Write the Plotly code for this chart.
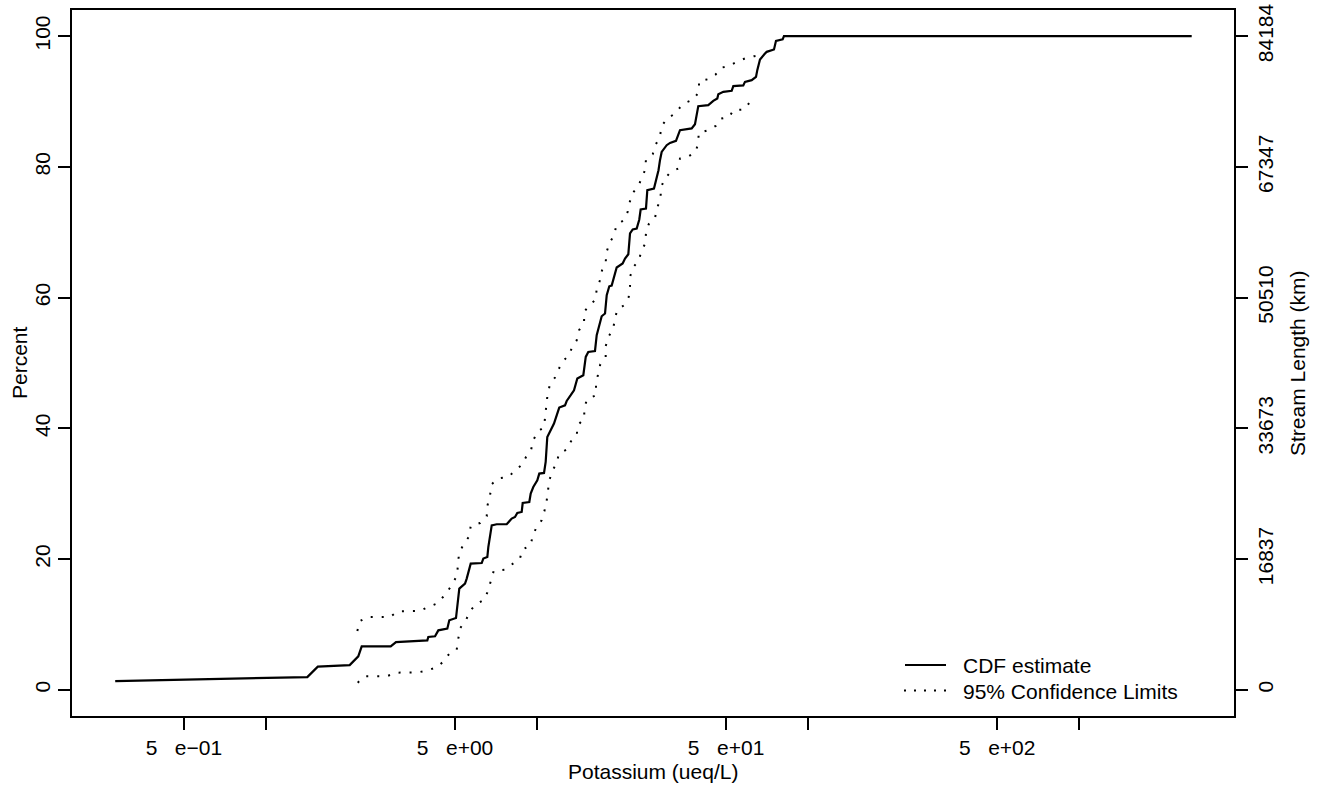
import plotly.graph_objects as go

# ---------------- data ----------------
cdf_x = [0.279, 1.426, 1.559, 2.044, 2.199, 2.264, 2.896, 3.029, 3.953, 3.986,
         4.220, 4.340, 4.684, 4.764, 5.043, 5.186, 5.444, 5.523, 5.714, 6.274,
         6.360, 6.580, 6.636, 6.830, 7.126, 7.757, 8.093, 8.324, 8.488, 8.810,
         8.886, 9.399, 9.511, 9.723, 10.06, 10.23, 10.65, 10.80, 10.95, 11.27,
         11.59, 11.86, 12.12, 12.73, 12.91, 13.36, 13.74, 14.13, 14.87, 15.18,
         15.51, 16.42, 16.66, 17.38, 17.88, 18.14, 18.54, 18.92, 19.74, 20.77,
         21.19, 21.79, 22.11, 22.62, 23.40, 23.92, 24.20, 25.32, 25.61, 27.10,
         27.68, 28.16, 28.52, 28.93, 30.19, 31.05, 32.67, 33.80, 37.33, 38.39,
         39.48, 42.98, 44.84, 46.40, 46.80, 48.83, 52.44, 53.16, 57.86, 58.70,
         62.14, 64.46, 65.17, 66.68, 69.58, 70.59, 75.10, 76.39, 80.84, 81.74,
         2609.0]
cdf_pct = [1.35, 1.96, 3.55, 3.78, 5.13, 6.66, 6.66, 7.31, 7.57, 8.08,
           8.19, 9.10, 9.36, 10.64, 10.99, 15.49, 16.25, 17.02, 19.31, 19.40,
           20.08, 20.32, 21.85, 25.17, 25.33, 25.33, 26.20, 26.44, 27.05, 27.21,
           28.58, 28.74, 30.02, 31.03, 32.06, 33.08, 33.18, 34.86, 38.68, 39.82,
           40.73, 42.00, 43.18, 43.53, 44.19, 45.07, 45.83, 47.62, 48.13, 50.93,
           51.69, 51.84, 54.25, 57.15, 57.57, 60.37, 61.74, 61.85, 64.61, 65.22,
           65.98, 66.64, 69.81, 70.42, 70.57, 71.95, 73.48, 73.63, 76.43, 76.69,
           78.27, 79.49, 81.03, 82.29, 83.32, 83.67, 83.98, 85.62, 85.88, 86.53,
           89.29, 89.44, 90.10, 90.47, 91.12, 91.48, 91.63, 92.35, 92.46, 93.01,
           93.27, 93.77, 94.80, 96.43, 97.35, 97.60, 97.96, 99.28, 99.50, 100.0,
           100.0]

upper_x = [2.181, 2.232, 2.382, 2.872, 3.082, 3.705, 3.976, 4.281, 4.515, 4.724,
           4.916, 5.086, 5.129, 5.173, 5.375, 5.645, 5.714, 6.183, 6.547, 6.580,
           6.733, 6.830, 7.187, 7.864, 8.345, 8.810, 9.139, 9.535, 9.723, 10.06,
           10.65, 10.77, 10.89, 10.97, 11.20, 11.69, 12.06, 12.44, 13.14, 13.54,
           14.06, 14.34, 14.96, 14.99, 15.61, 16.46, 16.66, 17.13, 17.43, 17.98,
           18.14, 18.60, 19.35, 19.68, 20.96, 21.68, 22.05, 22.58, 23.72, 24.42,
           25.11, 25.32, 26.81, 27.53, 28.52, 28.93, 30.19, 32.12, 33.80, 35.57,
           37.84, 39.72, 39.72, 42.98, 45.77, 47.75, 51.38, 54.71, 58.70, 63.53,
           65.17]
upper_pct = [9.00, 10.53, 11.14, 11.14, 12.01, 12.06, 12.67, 13.19, 14.20, 15.23,
             16.34, 17.52, 19.20, 20.84, 22.26, 23.49, 25.07, 25.52, 26.55, 28.13,
             29.76, 31.45, 32.32, 32.56, 33.59, 34.40, 35.62, 36.65, 38.18, 39.45,
             40.21, 41.85, 43.49, 45.11, 46.75, 47.77, 49.04, 50.16, 51.19, 52.46,
             53.48, 55.01, 56.13, 57.81, 58.84, 59.60, 61.24, 62.66, 64.19, 65.46,
             67.05, 68.43, 69.59, 71.08, 71.84, 73.14, 74.60, 75.98, 77.05, 78.38,
             79.49, 81.13, 81.94, 83.43, 84.70, 86.23, 87.35, 88.06, 89.09, 89.86,
             90.31, 91.48, 93.11, 93.42, 94.14, 95.15, 95.45, 96.07, 96.59, 96.94,
             97.02]

lower_x = [2.188, 2.322, 2.799, 3.037, 3.661, 3.966, 4.292, 4.554, 4.764, 5.073,
           5.142, 5.231, 5.504, 5.679, 5.976, 6.413, 6.616, 6.787, 6.945, 7.626,
           8.204, 8.684, 8.855, 9.511, 9.674, 10.01, 10.44, 10.68, 10.89, 10.99,
           11.14, 11.43, 11.86, 12.09, 12.91, 13.39, 14.06, 14.18, 14.99, 14.99,
           15.38, 16.56, 16.56, 16.84, 17.18, 17.98, 17.98, 18.38, 19.08, 19.46,
           19.79, 21.01, 21.87, 22.11, 22.11, 22.68, 23.86, 24.33, 25.17, 25.32,
           25.91, 27.33, 27.87, 28.64, 28.76, 29.58, 31.05, 33.32, 33.80, 36.39,
           38.62, 39.48, 39.62, 42.98, 45.77, 47.47, 51.38, 53.16, 58.21, 60.88,
           64.46]
lower_pct = [1.10, 2.07, 2.07, 2.63, 2.68, 2.98, 3.49, 4.41, 5.54, 6.15,
             7.83, 9.46, 10.79, 12.06, 13.08, 13.80, 15.12, 16.86, 18.18, 18.39,
             19.31, 20.08, 21.45, 22.11, 23.64, 24.91, 25.94, 27.31, 28.89, 30.53,
             32.06, 33.48, 34.71, 36.14, 36.76, 38.03, 38.90, 40.47, 41.50, 43.18,
             44.50, 45.07, 46.64, 48.23, 49.81, 50.93, 52.56, 53.99, 55.01, 56.65,
             58.07, 58.84, 60.11, 61.64, 63.17, 64.61, 65.72, 67.15, 68.28, 69.90,
             71.23, 72.20, 73.79, 75.06, 76.82, 78.07, 79.14, 79.76, 81.29, 81.64,
             82.29, 83.67, 85.20, 85.62, 86.27, 87.35, 87.65, 88.68, 88.78, 89.79,
             90.56]

x_tick_vals = [0.5, 1, 5, 10, 50, 100, 500, 1000]
x_tick_text = ["5   e\u221201", "", "5   e+00", "", "5   e+01", "", "5   e+02", ""]
y_tick_vals = [0, 20, 40, 60, 80, 100]
y_tick_text = ["0", "20", "40", "60", "80", "100"]
y2_tick_text = ["0", "16837", "33673", "50510", "67347", "84184"]

legend_labels = ["CDF estimate", "95% Confidence Limits"]

# ---------------- layout geometry ----------------
W, H = 1317, 786
L, R, T, B = 72, 83, 10, 70
PW, PH = W - L - R, H - T - B


def px2paper_x(px):
    return (px - L) / PW


def px2paper_y(py):
    return (H - B - py) / PH


FONT = "Liberation Sans, Arial, Helvetica, sans-serif"
FS = 21

fig = go.Figure()
fig.add_trace(go.Scatter(x=cdf_x, y=cdf_pct, mode="lines",
                         line=dict(color="black", width=2.2),
                         showlegend=False, hoverinfo="skip"))
fig.add_trace(go.Scatter(x=upper_x, y=upper_pct, mode="lines",
                         line=dict(color="black", width=2, dash="2px,9px"),
                         showlegend=False, hoverinfo="skip"))
fig.add_trace(go.Scatter(x=lower_x, y=lower_pct, mode="lines",
                         line=dict(color="black", width=2, dash="2px,9px"),
                         showlegend=False, hoverinfo="skip"))
# invisible trace to carry the right-hand axis
fig.add_trace(go.Scatter(x=cdf_x, y=cdf_pct, mode="lines", yaxis="y2",
                         line=dict(color="rgba(0,0,0,0)", width=0),
                         showlegend=False, hoverinfo="skip"))

axis_common = dict(showline=True, linecolor="black", linewidth=1.5,
                   ticks="outside", ticklen=12, tickwidth=1.5, tickcolor="black",
                   showgrid=False, zeroline=False, automargin=False,
                   tickfont=dict(family=FONT, size=FS, color="black"))

fig.update_layout(
    width=W, height=H,
    margin=dict(l=L, r=R, t=T, b=B, pad=0, autoexpand=False),
    paper_bgcolor="white", plot_bgcolor="white",
    font=dict(family=FONT, size=FS, color="black"),
    showlegend=False,
    xaxis=dict(type="log", range=[-0.7138, 3.5725], mirror=True,
               tickmode="array", tickvals=x_tick_vals, ticktext=x_tick_text,
               **axis_common),
    yaxis=dict(range=[-4, 104], mirror=True, tickmode="array",
               tickvals=y_tick_vals, ticktext=y_tick_text, tickangle=-90,
               **axis_common),
    yaxis2=dict(range=[-4, 104], overlaying="y", side="right",
                tickmode="array", tickvals=y_tick_vals, ticktext=y2_tick_text,
                tickangle=-90, **axis_common),
)

ann_font = dict(family=FONT, size=FS, color="black")
annotations = [
    dict(text="Potassium (ueq/L)", xref="paper", yref="paper",
         x=0.5, y=px2paper_y(771.5), xanchor="center", yanchor="middle",
         showarrow=False, font=ann_font),
    dict(text="Percent", xref="paper", yref="paper",
         x=px2paper_x(19), y=0.5, xanchor="center", yanchor="middle",
         textangle=-90, showarrow=False, font=ann_font),
    dict(text="Stream Length (km)", xref="paper", yref="paper",
         x=px2paper_x(1297), y=0.5, xanchor="center", yanchor="middle",
         textangle=-90, showarrow=False, font=ann_font),
    dict(text=legend_labels[0], xref="paper", yref="paper",
         x=px2paper_x(961), y=px2paper_y(665.5), xanchor="left", yanchor="middle",
         showarrow=False, font=ann_font),
    dict(text=legend_labels[1], xref="paper", yref="paper",
         x=px2paper_x(961), y=px2paper_y(691), xanchor="left", yanchor="middle",
         showarrow=False, font=ann_font),
]
fig.update_layout(annotations=annotations)

fig.add_shape(type="line", xref="paper", yref="paper",
              x0=px2paper_x(905), x1=px2paper_x(946),
              y0=px2paper_y(665), y1=px2paper_y(665),
              line=dict(color="black", width=2.2))
fig.add_shape(type="line", xref="paper", yref="paper",
              x0=px2paper_x(904), x1=px2paper_x(946),
              y0=px2paper_y(690.5), y1=px2paper_y(690.5),
              line=dict(color="black", width=2, dash="2px,8px"))

fig.write_html("out.html",
               config={"displayModeBar": False},
               post_script="document.body.style.margin='0px';"
                           "document.body.style.overflow='hidden';")
